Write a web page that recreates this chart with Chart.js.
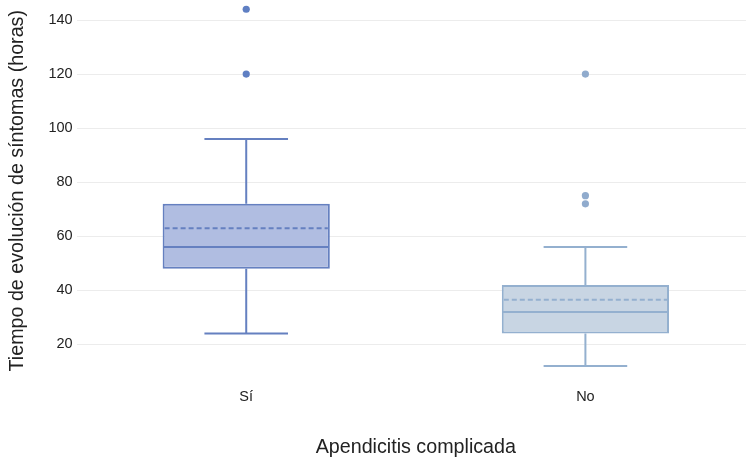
<!DOCTYPE html>
<html>
<head>
<meta charset="utf-8">
<script src="https://cdn.jsdelivr.net/npm/chart.js@4/dist/chart.umd.min.js"></script>
<style>
  html, body { margin: 0; padding: 0; background: #fff; overflow: hidden; }
  #wrap { width: 759px; height: 461px; position: relative; }
</style>
</head>
<body>
<div id="wrap"><canvas id="c" width="759" height="461"></canvas></div>
<script>
// Groups: complicated appendicitis yes / no
const categories = ['Sí', 'No'];

// Five-number summaries (hours of symptom evolution)
const whiskerLow  = [24, 12];
const q1          = [48, 24];
const median      = [56, 32];
const q3          = [72, 42];
const whiskerHigh = [96, 56];
const mean        = [63, 36.5];

// Points beyond the whiskers
const outliersSi = [120, 144];
const outliersNo = [72, 75, 120];

const yTicks = [20, 40, 60, 80, 100, 120, 140];

const lineColors = ['#6580c0', '#94b0cf'];
const fillColors = ['#b0bde1', '#c8d5e3'];

const FONT = '"Liberation Sans", Arial, Helvetica, sans-serif';

// Draws whiskers, caps, median and dashed mean line for each box
const boxExtras = {
  id: 'boxExtras',
  afterDatasetsDraw(chart) {
    const ctx = chart.ctx;
    const xs = chart.scales.x, ys = chart.scales.y;
    const bars = chart.getDatasetMeta(0).data;
    categories.forEach((c, i) => {
      const cx = xs.getPixelForValue(i);
      const half = bars[i].width / 2;
      const cap = half / 2;
      const col = lineColors[i];
      ctx.save();
      ctx.strokeStyle = col;
      ctx.lineWidth = 2;
      ctx.lineCap = 'butt';
      // whiskers
      ctx.beginPath();
      ctx.moveTo(cx, ys.getPixelForValue(q3[i]));
      ctx.lineTo(cx, ys.getPixelForValue(whiskerHigh[i]));
      ctx.moveTo(cx, ys.getPixelForValue(q1[i]));
      ctx.lineTo(cx, ys.getPixelForValue(whiskerLow[i]));
      // caps
      const yh = ys.getPixelForValue(whiskerHigh[i]);
      const yl = ys.getPixelForValue(whiskerLow[i]);
      ctx.moveTo(cx - cap, yh); ctx.lineTo(cx + cap, yh);
      ctx.moveTo(cx - cap, yl); ctx.lineTo(cx + cap, yl);
      // median
      const ym = ys.getPixelForValue(median[i]);
      ctx.moveTo(cx - half + 1, ym); ctx.lineTo(cx + half - 1, ym);
      ctx.stroke();
      // mean (dashed)
      const ya = ys.getPixelForValue(mean[i]);
      ctx.beginPath();
      ctx.setLineDash([5, 3]);
      ctx.moveTo(cx - half + 2, ya); ctx.lineTo(cx + half - 2, ya);
      ctx.stroke();
      ctx.restore();
    });
  }
};

// Remove the extra room Chart.js reserves for edge tick labels
const noEdgePadding = s => {
  s.paddingTop = 0; s.paddingBottom = 0;
  s.paddingLeft = 0; s.paddingRight = 0;
};

new Chart(document.getElementById('c'), {
  data: {
    labels: categories,
    datasets: [
      {
        type: 'bar',
        label: 'IQR',
        data: categories.map((c, i) => [q1[i], q3[i]]),
        backgroundColor: fillColors,
        borderColor: lineColors,
        borderWidth: 2,
        borderSkipped: false,
        barPercentage: 0.493,
        categoryPercentage: 1,
        order: 2
      },
      {
        type: 'line',
        label: 'Sí outliers',
        data: outliersSi.map(v => ({ x: 'Sí', y: v })),
        showLine: false,
        clip: false,
        pointRadius: 3.6,
        pointBorderWidth: 0,
        pointBackgroundColor: '#5f7fc3',
        order: 1
      },
      {
        type: 'line',
        label: 'No outliers',
        data: outliersNo.map(v => ({ x: 'No', y: v })),
        showLine: false,
        clip: false,
        pointRadius: 3.6,
        pointBorderWidth: 0,
        pointBackgroundColor: '#90abcd',
        order: 1
      }
    ]
  },
  options: {
    responsive: false,
    animation: false,
    devicePixelRatio: 1,
    layout: { padding: { left: 0, right: 1, top: 0, bottom: 0 } },
    plugins: { legend: { display: false }, tooltip: { enabled: false } },
    scales: {
      x: {
        type: 'category',
        offset: true,
        afterFit: noEdgePadding,
        grid: { display: false, drawTicks: false },
        border: { display: false },
        ticks: { color: '#222', font: { family: FONT, size: 14.5 }, padding: 11 },
        title: {
          display: true,
          text: 'Apendicitis complicada',
          color: '#222',
          font: { family: FONT, size: 19.7 },
          padding: { top: 19, bottom: 1.5 }
        }
      },
      y: {
        type: 'linear',
        min: 7.74,
        max: 145.94,
        afterBuildTicks: s => { s.ticks = yTicks.map(v => ({ value: v })); },
        afterFit: noEdgePadding,
        grid: { color: '#ececec', lineWidth: 1, drawTicks: false },
        border: { display: false },
        ticks: { color: '#222', font: { family: FONT, size: 14.5 }, padding: 4 },
        title: {
          display: true,
          text: 'Tiempo de evolución de síntomas (horas)',
          color: '#222',
          font: { family: FONT, size: 19.7 },
          padding: { top: 6.2, bottom: 14.6 }
        }
      }
    }
  },
  plugins: [boxExtras]
});
</script>
</body>
</html>
